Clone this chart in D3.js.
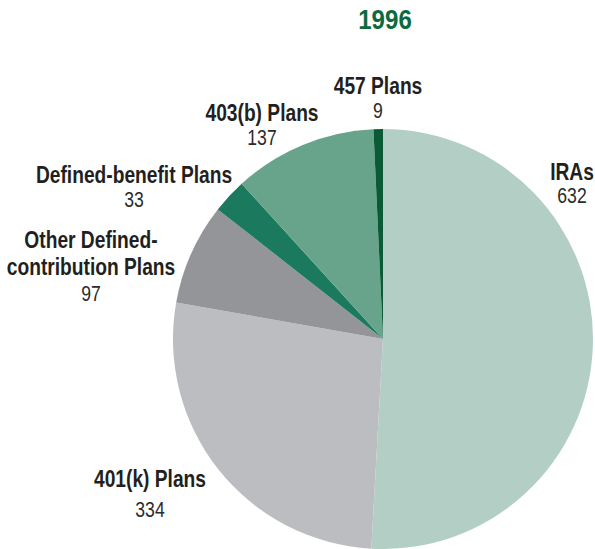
<!DOCTYPE html>
<html>
<head>
<meta charset="utf-8">
<script src="https://cdn.jsdelivr.net/npm/d3@7"></script>
<style>
  html, body { margin: 0; padding: 0; background: #fff; }
  svg { display: block; }
  text { font-family: "Liberation Sans", Arial, sans-serif; }
</style>
</head>
<body>
<svg id="chart" width="595" height="549"></svg>
<script>
// Retirement assets by plan type, 1996
const title = "1996";
const categories = ["IRAs", "401(k) Plans", "Other Defined-contribution Plans", "Defined-benefit Plans", "403(b) Plans", "457 Plans"];
const values = [632, 334, 97, 33, 137, 9];
const colors = ["#b3cfc5", "#bcbdc1", "#939598", "#1b7a5e", "#68a48b", "#0b5a36"];

// name lines drawn for each slice
const labelLines = [
  ["IRAs"],
  ["401(k) Plans"],
  ["Other Defined-", "contribution Plans"],
  ["Defined-benefit Plans"],
  ["403(b) Plans"],
  ["457 Plans"]
];
// x centre, baseline of first name line, line step, gap to the value line
const labelPos = [
  { x: 572, y: 180, step: 27, gap: 23 },
  { x: 150, y: 487, step: 27, gap: 30 },
  { x: 91,  y: 248, step: 27, gap: 26 },
  { x: 134, y: 183, step: 27, gap: 24 },
  { x: 262, y: 121, step: 27, gap: 24 },
  { x: 378, y: 94,  step: 27, gap: 24 }
];

const svg = d3.select("#chart");
const cx = 383, cy = 339, r = 210;

const pie = d3.pie().sort(null).value(d => d.value);
const arc = d3.arc().innerRadius(0).outerRadius(r);
const data = categories.map((c, i) => ({ name: c, value: values[i], color: colors[i] }));

svg.append("g")
  .attr("transform", `translate(${cx},${cy})`)
  .selectAll("path")
  .data(pie(data))
  .join("path")
  .attr("d", arc)
  .attr("fill", d => d.data.color);

// condensed-looking text: a normal face squeezed horizontally
function label(parent, x, y, str, size, weight, sx, fill) {
  return parent.append("text")
    .attr("transform", `translate(${x},${y}) scale(${sx},1)`)
    .attr("text-anchor", "middle")
    .attr("font-size", size)
    .attr("font-weight", weight)
    .attr("fill", fill)
    .text(str);
}

label(svg, 385, 29, title, 28, "bold", 0.86, "#0d6a3e");

const labels = svg.append("g");
data.forEach((d, i) => {
  const p = labelPos[i];
  const lines = labelLines[i];
  lines.forEach((ln, j) => {
    label(labels, p.x, p.y + j * p.step, ln, 24, "bold", 0.8, "#231f20");
  });
  const lastY = p.y + (lines.length - 1) * p.step;
  label(labels, p.x, lastY + p.gap, d3.format(",")(d.value), 22, "normal", 0.8, "#2b2b2b");
});
</script>
</body>
</html>
